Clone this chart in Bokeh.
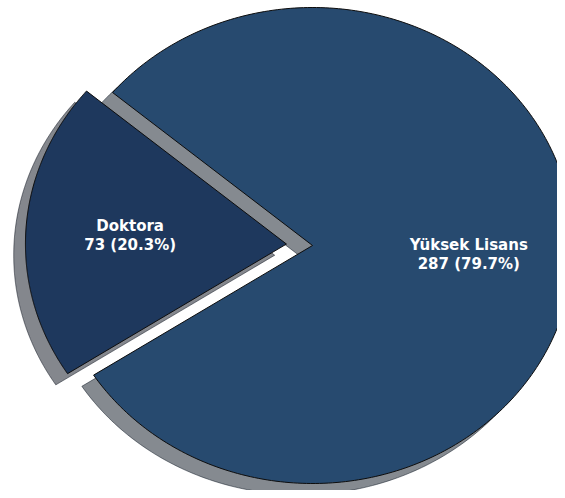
import numpy as np
from bokeh.plotting import figure
from bokeh.models import Range1d, ColumnDataSource
from bokeh.core.properties import value
from bokeh.embed import file_html
from bokeh.resources import INLINE

# ---- data ----
labels = ["Doktora", "Yüksek Lisans"]
counts = [73, 287]
colors = ["#1e385d", "#274a6f"]
explode = [0.1, 0.0]
start_deg = 140.0

# ---- geometry derived from data ----
total = float(sum(counts))
fracs = np.array(counts) / total
shadow_dx, shadow_dy = -0.045, -0.047
label_dist = 0.6

def darker(hexcol, f=0.3):
    h = hexcol.lstrip("#")
    r, g, b = (int(h[i:i + 2], 16) for i in (0, 2, 4))
    return "#%02x%02x%02x" % (int(r * f), int(g * f), int(b * f))

xs, ys, sxs, sys_, scols = [], [], [], [], []
tx, ty, texts = [], [], []
theta = np.deg2rad(start_deg)
for lab, c, fr, ex, col in zip(labels, counts, fracs, explode, colors):
    a0 = theta
    a1 = theta + fr * 2 * np.pi
    mid = 0.5 * (a0 + a1)
    cx, cy = ex * np.cos(mid), ex * np.sin(mid)
    t = np.linspace(a0, a1, 300)
    px = [cx] + list(cx + np.cos(t))
    py = [cy] + list(cy + np.sin(t))
    xs.append(px)
    ys.append(py)
    sxs.append([v + shadow_dx for v in px])
    sys_.append([v + shadow_dy for v in py])
    scols.append(darker(col))
    tx.append(cx + label_dist * np.cos(mid))
    ty.append(cy + label_dist * np.sin(mid))
    texts.append(f"{lab}\n{c} ({fr * 100:.1f}%)")
    theta = a1

W, H = 557, 490
rx, ry = 261.0, 238.0
x0 = -312.0 / rx
y1 = 245.0 / ry
p = figure(width=W, height=H, output_backend="svg", toolbar_location=None,
           x_range=Range1d(x0, x0 + W / rx), y_range=Range1d(y1 - H / ry, y1),
           x_axis_location=None, y_axis_location=None, min_border=0)
p.grid.visible = False
p.outline_line_color = None
p.background_fill_color = "white"

shadow_src = ColumnDataSource(dict(xs=sxs, ys=sys_, col=scols))
p.patches(xs="xs", ys="ys", fill_color="col", fill_alpha=0.5,
          line_color="col", line_alpha=0.5, source=shadow_src)

wedge_src = ColumnDataSource(dict(xs=xs, ys=ys, col=colors))
p.patches(xs="xs", ys="ys", fill_color="col", line_color="#0d0d0d",
          line_width=1, source=wedge_src)

text_src = ColumnDataSource(dict(x=tx, y=ty, text=texts))
p.text(x="x", y="y", text="text", source=text_src, text_color="white",
       text_font=value("DejaVu Sans"), text_font_style="bold",
       text_font_size="15px", text_align="center", text_baseline="middle",
       text_line_height=1.05)

open("out.html", "w").write(file_html(p, INLINE))
